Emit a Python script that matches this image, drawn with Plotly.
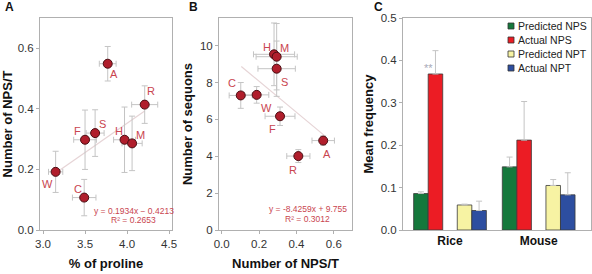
import plotly.graph_objects as go

# ---------- Panel A data ----------
aa_labels = ["A", "R", "S", "F", "H", "M", "W", "C"]
a_proline = [3.77, 4.21, 3.62, 3.50, 3.97, 4.06, 3.15, 3.49]
a_proline_err = [0.10, 0.155, 0.107, 0.135, 0.13, 0.12, 0.085, 0.14]
a_npst = [0.549, 0.414, 0.320, 0.298, 0.298, 0.286, 0.192, 0.107]
a_npst_err = [0.057, 0.062, 0.077, 0.098, 0.108, 0.09, 0.068, 0.06]
a_fit_x = [3.15, 4.21]
a_slope, a_icpt = 0.1934, -0.4213

# ---------- Panel B data ----------
b_npst = [0.543, 0.41, 0.294, 0.312, 0.280, 0.294, 0.187, 0.102]
b_npst_err = [0.06, 0.062, 0.10, 0.08, 0.11, 0.11, 0.065, 0.062]
b_sequons = [4.85, 4.01, 8.75, 6.17, 9.53, 9.40, 7.33, 7.30]
b_sequons_err = [0.25, 0.35, 1.5, 0.5, 1.7, 1.8, 0.45, 0.7]
b_fit_x = [0.105, 0.55]
b_slope, b_icpt = -8.4259, 9.755

# ---------- Panel C data ----------
species = ["Rice", "Mouse"]
series_names = ["Predicted NPS", "Actual NPS", "Predicted NPT", "Actual NPT"]
series_vals = [[0.086, 0.149], [0.368, 0.212], [0.059, 0.105], [0.046, 0.083]]
series_err = [[0.004, 0.023], [0.055, 0.091], [0.002, 0.014], [0.022, 0.052]]
series_colors = ["#15783c", "#ec1c24", "#f7f3a3", "#2d4ea0"]
slot_offsets = [-2, -1, 1, 2]

W, H = 592, 274
fig = go.Figure()

lab_col = "#c9454f"
mk = dict(size=9, color="#b01e2c", line=dict(color="#4a0d12", width=1))
err_col = "#c4c4c4"

# Panel A
fig.add_trace(go.Scatter(x=a_fit_x, y=[a_slope * v + a_icpt for v in a_fit_x], mode="lines",
                         line=dict(color="#e6d4d6", width=1.2), xaxis="x", yaxis="y", showlegend=False))
fig.add_trace(go.Scatter(x=a_proline, y=a_npst, mode="markers", marker=mk,
                         error_x=dict(type="data", array=a_proline_err, color=err_col, thickness=1, width=3),
                         error_y=dict(type="data", array=a_npst_err, color=err_col, thickness=1, width=3),
                         xaxis="x", yaxis="y", showlegend=False))
a_lab_pos = {"A": (0.07, -0.035), "R": (0.08, 0.045), "S": (0.09, 0.03), "F": (-0.09, 0.028),
             "H": (-0.07, 0.028), "M": (0.1, 0.028), "W": (-0.1, -0.04), "C": (-0.07, 0.028)}
for lab, xv, yv in zip(aa_labels, a_proline, a_npst):
    dx, dy = a_lab_pos[lab]
    fig.add_annotation(x=xv + dx, y=yv + dy, xref="x", yref="y", text=lab, showarrow=False,
                       font=dict(size=11, color=lab_col, family="Arial"))
fig.add_annotation(x=4.08, y=0.063, xref="x", yref="y", text="y = 0.1934x − 0.4213", showarrow=False,
                   xanchor="center", font=dict(size=8.5, color=lab_col, family="Arial"))
fig.add_annotation(x=4.08, y=0.033, xref="x", yref="y", text="R² = 0.2653", showarrow=False,
                   xanchor="center", font=dict(size=8.5, color=lab_col, family="Arial"))

# Panel B
fig.add_trace(go.Scatter(x=b_fit_x, y=[b_slope * v + b_icpt for v in b_fit_x], mode="lines",
                         line=dict(color="#e6d4d6", width=1.2), xaxis="x2", yaxis="y2", showlegend=False))
fig.add_trace(go.Scatter(x=b_npst, y=b_sequons, mode="markers", marker=mk,
                         error_x=dict(type="data", array=b_npst_err, color=err_col, thickness=1, width=3),
                         error_y=dict(type="data", array=b_sequons_err, color=err_col, thickness=1, width=3),
                         xaxis="x2", yaxis="y2", showlegend=False))
b_lab_pos = {"A": (0.02, -0.75), "R": (-0.03, -0.75), "S": (0.04, -0.7), "F": (-0.04, -0.7),
             "H": (-0.04, 0.4), "M": (0.04, 0.45), "W": (0.05, -0.7), "C": (-0.045, 0.65)}
for lab, xv, yv in zip(aa_labels, b_npst, b_sequons):
    dx, dy = b_lab_pos[lab]
    fig.add_annotation(x=xv + dx, y=yv + dy, xref="x2", yref="y2", text=lab, showarrow=False,
                       font=dict(size=11, color=lab_col, family="Arial"))
fig.add_annotation(x=0.461, y=1.14, xref="x2", yref="y2", text="y = -8.4259x + 9.755", showarrow=False,
                   xanchor="center", font=dict(size=8.5, color=lab_col, family="Arial"))
fig.add_annotation(x=0.461, y=0.6, xref="x2", yref="y2", text="R² = 0.3012", showarrow=False,
                   xanchor="center", font=dict(size=8.5, color=lab_col, family="Arial"))

# Panel C
slot_w = 0.164
for name, vals, errs, col, off in zip(series_names, series_vals, series_err, series_colors, slot_offsets):
    fig.add_trace(go.Bar(x=[i + off * slot_w for i in range(len(species))], y=vals, name=name,
                         width=slot_w, marker=dict(color=col, line=dict(color="#3a3a3a", width=0.8)),
                         error_y=dict(type="data", array=errs, arrayminus=[0] * len(errs),
                                      color=err_col, thickness=1, width=3),
                         xaxis="x3", yaxis="y3", showlegend=False))
fig.add_annotation(x=0 - 1.45 * slot_w, y=0.383, xref="x3", yref="y3", text="**", showarrow=False,
                   font=dict(size=11, color="#a8aab8", family="Arial"))

# Legend for panel C (drawn as small squares + text)
leg_rows_px = [26, 40, 54, 68]
for name, col, ypx in zip(series_names, series_colors, leg_rows_px):
    fig.add_shape(type="rect", xref="paper", yref="paper",
                  x0=508 / W, x1=514 / W, y0=1 - (ypx + 3) / H, y1=1 - (ypx - 3) / H,
                  fillcolor=col, line=dict(color="#333", width=0.8))
    fig.add_annotation(x=516 / W, y=1 - ypx / H, xref="paper", yref="paper", text=name,
                       showarrow=False, xanchor="left", yanchor="middle",
                       font=dict(size=10.5, color="#222", family="Arial"))

ax_common = dict(showgrid=False, zeroline=False, showline=True, linecolor="#b0b0b0", linewidth=1,
                 mirror=True, ticks="outside", tickcolor="#b0b0b0", ticklen=3, automargin=False,
                 tickfont=dict(size=11.5, color="#333", family="Arial"))
title_font = dict(size=13, color="#111", family="Arial")

ydom = [1 - 230 / H, 1 - 18 / H]
fig.update_layout(
    width=W, height=H, margin=dict(l=0, r=0, t=0, b=0),
    paper_bgcolor="white", plot_bgcolor="white", barmode="overlay", showlegend=False,
    xaxis=dict(domain=[40 / W, 172 / W], range=[2.964, 4.535], tickvals=[3.0, 3.5, 4.0, 4.5],
               ticktext=["3.0", "3.5", "4.0", "4.5"],
               title=dict(text="<b>% of proline</b>", font=title_font, standoff=10), anchor="y", **ax_common),
    yaxis=dict(domain=ydom, range=[0, 0.7], tickvals=[0, 0.2, 0.4, 0.6],
               ticktext=["0.0", "0.2", "0.4", "0.6"],
               title=dict(text="<b>Number of NPS/T</b>", font=title_font, standoff=4), anchor="x", **ax_common),
    xaxis2=dict(domain=[219 / W, 352 / W], range=[-0.0144, 0.697], tickvals=[0, 0.2, 0.4, 0.6],
                ticktext=["0.0", "0.2", "0.4", "0.6"],
                title=dict(text="<b>Number of NPS/T</b>", font=title_font, standoff=10), anchor="y2", **ax_common),
    yaxis2=dict(domain=ydom, range=[0, 11.5], tickvals=[0, 2, 4, 6, 8, 10],
                title=dict(text="<b>Number of sequons</b>", font=title_font, standoff=4), anchor="x2", **ax_common),
    xaxis3=dict(domain=[403 / W, 591 / W], range=[-0.53, 1.59], tickvals=[0, 1],
                ticktext=["<b>Rice</b>", "<b>Mouse</b>"], anchor="y3",
                **{**ax_common, "ticks": "", "tickfont": dict(size=12, color="#111", family="Arial")}),
    yaxis3=dict(domain=ydom, range=[0, 0.5], tickvals=[0, 0.1, 0.2, 0.3, 0.4, 0.5],
                ticktext=["0.0", "0.1", "0.2", "0.3", "0.4", "0.5"],
                title=dict(text="<b>Mean frequency</b>", font=title_font, standoff=4), anchor="x3", **ax_common),
)

for txt, xp in [("A", 3), ("B", 187), ("C", 372)]:
    fig.add_annotation(x=xp / W, y=1.0 + 2 / H, xref="paper", yref="paper", text="<b>" + txt + "</b>",
                       showarrow=False, xanchor="left", yanchor="top",
                       font=dict(size=12, color="#111", family="Arial"))

fig.write_html("out.html", config={"displayModeBar": False},
               post_script="document.body.style.margin='0';document.body.style.overflow='hidden';")
